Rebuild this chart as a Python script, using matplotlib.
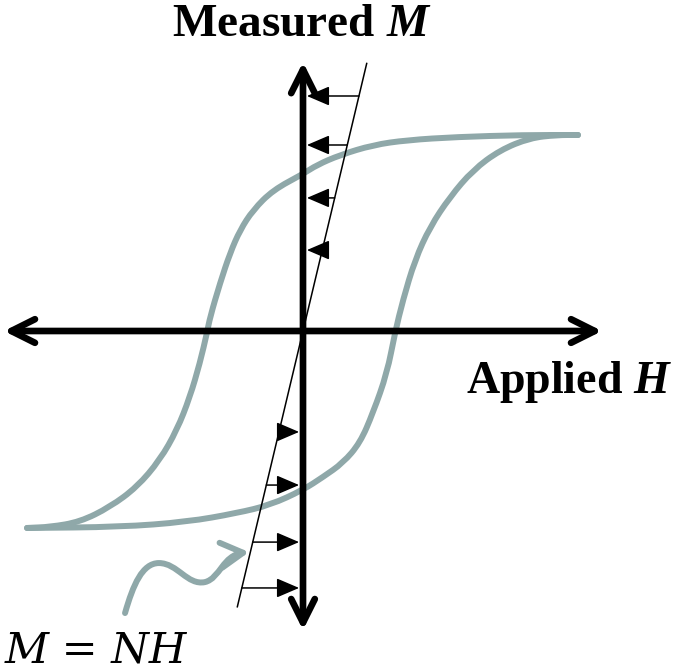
import numpy as np
import matplotlib.pyplot as plt
from matplotlib.patches import FancyArrowPatch, PathPatch
from matplotlib.path import Path

plt.rcParams['mathtext.fontset'] = 'custom'
plt.rcParams['mathtext.rm'] = 'Liberation Serif:bold'
plt.rcParams['mathtext.it'] = 'Liberation Serif:italic:bold'

# hysteresis loop, normalised so that saturation M = 1
upper_H = [1.403, 1.122, 0.786, 0.531, 0.357, 0.189, 0.071, 0.000, -0.153, -0.255,
           -0.321, -0.372, -0.423, -0.474, -0.490, -0.526, -0.577, -0.643, -0.730,
           -0.847, -0.985, -1.138, -1.291, -1.408]
upper_M = [1.000, 1.000, 0.990, 0.974, 0.949, 0.898, 0.847, 0.801, 0.719, 0.617,
           0.515, 0.398, 0.245, 0.071, -0.010, -0.163, -0.337, -0.505, -0.658,
           -0.796, -0.898, -0.974, -1.000, -1.005]
lower_H = [-1.408, -0.934, -0.592, -0.337, -0.168, 0.000, 0.102, 0.204, 0.291, 0.357,
           0.429, 0.469, 0.510, 0.571, 0.648, 0.750, 0.867, 1.005, 1.158, 1.296, 1.403]
lower_M = [-1.005, -1.000, -0.974, -0.929, -0.888, -0.811, -0.745, -0.673, -0.571, -0.418,
           -0.214, -0.010, 0.158, 0.362, 0.531, 0.684, 0.821, 0.923, 0.985, 1.000, 1.000]

# demagnetising line M = N H
N = 4.2
line_H = [-0.335, 0.325]
# levels of the little arrows between the line and the M axis
arrow_M_up = [1.199, 0.949, 0.679, 0.413]
arrow_M_down = [-0.515, -0.786, -1.077, -1.311]

# axis extents
H_axis = [-1.526, 1.526]
M_axis = [-1.526, 1.372]

# squiggly pointer (cubic bezier vertices)
squig_H = [-0.908, -0.867, -0.820, -0.735, -0.640, -0.590, -0.500, -0.423, -0.410, -0.275]
squig_M = [-1.439, -1.296, -1.184, -1.184, -1.184, -1.300, -1.281, -1.262, -1.143, -1.128]

loop_col = '#8FA8A9'


def smooth_path(xs, ys):
    # quadratic b-spline through midpoints so the thick line has no corners
    pts = list(zip(xs, ys))
    verts = [pts[0], ((pts[0][0] + pts[1][0]) / 2, (pts[0][1] + pts[1][1]) / 2)]
    codes = [Path.MOVETO, Path.LINETO]
    for i in range(1, len(pts) - 1):
        mid = ((pts[i][0] + pts[i + 1][0]) / 2, (pts[i][1] + pts[i + 1][1]) / 2)
        verts += [pts[i], mid]
        codes += [Path.CURVE3, Path.CURVE3]
    verts.append(pts[-1])
    codes.append(Path.LINETO)
    return Path(verts, codes)


fig = plt.figure(figsize=(6.82, 6.71), dpi=100)
ax = fig.add_axes([0, 0, 1, 1])
ax.set_xlim(-303 / 196, 379 / 196)
ax.set_ylim(-340 / 196, 331 / 196)
ax.axis('off')

for hs, ms in [(upper_H, upper_M), (lower_H, lower_M)]:
    ax.add_patch(PathPatch(smooth_path(hs, ms), facecolor='none', edgecolor=loop_col,
                           lw=4.3, joinstyle='round', capstyle='round', zorder=2))

# main axes with open arrow heads
axstyle = '->,head_length=1.7,head_width=0.85'
for a, b in [((0, 0), (H_axis[1], 0)), ((0, 0), (H_axis[0], 0)),
             ((0, 0), (0, M_axis[1])), ((0, 0), (0, M_axis[0]))]:
    ax.add_patch(FancyArrowPatch(a, b, arrowstyle=axstyle, mutation_scale=10, lw=4.8,
                                 color='black', capstyle='round', joinstyle='round',
                                 shrinkA=0, shrinkB=0, zorder=3))

ax.plot(line_H, [N * h for h in line_H], color='black', lw=1.1, zorder=4)

small = '-|>,head_length=1.4,head_width=0.6'
for m in arrow_M_up:
    ax.add_patch(FancyArrowPatch((m / N, m), (0.02, m), arrowstyle=small, mutation_scale=10,
                                 lw=1.1, color='black', shrinkA=0, shrinkB=0, zorder=4))
for m in arrow_M_down:
    ax.add_patch(FancyArrowPatch((m / N, m), (-0.02, m), arrowstyle=small, mutation_scale=10,
                                 lw=1.1, color='black', shrinkA=0, shrinkB=0, zorder=4))

codes = [Path.MOVETO] + [Path.CURVE4] * 9
sq = Path(list(zip(squig_H, squig_M)), codes)
ax.add_patch(FancyArrowPatch(path=sq, arrowstyle='->,head_length=1.6,head_width=0.9',
                             mutation_scale=10, lw=4.3, color=loop_col,
                             capstyle='round', joinstyle='round', zorder=2))

ax.text(-0.005, 1.505, r'$\mathrm{Measured}\ M$', ha='center', va='baseline', fontsize=34)
ax.text(0.832, -0.316, r'$\mathrm{Applied}\ H$', ha='left', va='baseline', fontsize=33)
ax.text(-1.520, -1.690, 'M = NH', ha='left', va='baseline', fontsize=31,
        family='DejaVu Serif', style='italic')

fig.savefig('out.png', dpi=100)
